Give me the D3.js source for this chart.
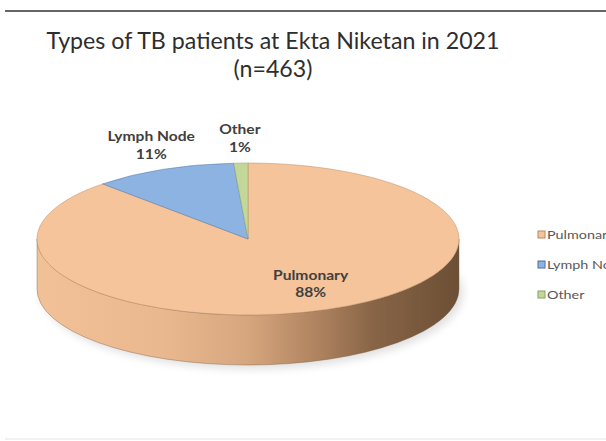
<!DOCTYPE html>
<html>
<head>
<meta charset="utf-8">
<script src="https://cdn.jsdelivr.net/npm/d3@7"></script>
<style>
  body { margin: 0; background: #fff; }
  svg { display: block; font-family: Lato, "Liberation Sans", sans-serif; }
</style>
</head>
<body>
<div id="container"></div>
<script>
const categories = ['Pulmonary', 'Lymph Node', 'Other'];
const counts = [407, 51, 5];
const titleLines = ['Types of TB patients at Ekta Niketan in 2021', '(n=463)'];

const width = 606;
const height = 441;

const svg = d3.select('#container')
              .append('svg')
              .attr('width', width)
              .attr('height', height);

// frame lines
svg.append('line')
   .attr('x1', 5).attr('x2', width).attr('y1', 11).attr('y2', 11)
   .attr('stroke', '#666').attr('stroke-width', 2.2);
svg.append('line')
   .attr('x1', 5).attr('x2', width).attr('y1', 439).attr('y2', 439)
   .attr('stroke', '#ececec').attr('stroke-width', 1.5);

// title
svg.selectAll('text.title')
   .data(titleLines)
   .enter()
   .append('text')
   .attr('class', 'title')
   .attr('x', 273)
   .attr('y', (d, i) => 49 + i * 28)
   .attr('text-anchor', 'middle')
   .attr('font-size', 23.2)
   .attr('fill', '#2e2e2e')
   .text(d => d);

const color = d3.scaleOrdinal()
                .domain(categories)
                .range(['#f5c49b', '#8db3e2', '#c4d79b']);
const edge = d3.scaleOrdinal()
               .domain(categories)
               .range(['#b78a62', '#4f6f99', '#8aa060']);

const cx = 248, cy = 239, rx = 211, ry = 76, depth = 50;
const total = d3.sum(counts);
const data = categories.map((c, i) => ({ name: c, value: counts[i] }));

const pie = d3.pie().sort(null).value(d => d.value);
const arcs = pie(data);

const px = a => cx + rx * Math.sin(a);
const py = a => cy - ry * Math.cos(a);

// side gradient
const defs = svg.append('defs');
const grad = defs.append('linearGradient')
                 .attr('id', 'side')
                 .attr('gradientUnits', 'userSpaceOnUse')
                 .attr('x1', cx - rx).attr('x2', cx + rx)
                 .attr('y1', 0).attr('y2', 0);
[[0, '#f2c198'], [0.3, '#e9b88f'], [0.5, '#d6a67e'], [0.66, '#b08460'], [0.8, '#876446'], [1, '#6c4f35']]
  .forEach(s => grad.append('stop').attr('offset', s[0]).attr('stop-color', s[1]));

const blur = defs.append('filter').attr('id', 'shadow')
                 .attr('x', '-10%').attr('y', '-10%').attr('width', '120%').attr('height', '140%');
blur.append('feGaussianBlur').attr('stdDeviation', 4);

// soft shadow under the pie
svg.append('ellipse')
   .attr('cx', cx + 4).attr('cy', cy + depth + 4)
   .attr('rx', rx).attr('ry', ry)
   .attr('fill', '#000').attr('opacity', 0.12)
   .attr('filter', 'url(#shadow)');

// front side of each slice
function sidePath(d) {
  const a0 = Math.max(d.startAngle, Math.PI / 2);
  const a1 = Math.min(d.endAngle, 3 * Math.PI / 2);
  if (a1 <= a0) return null;
  return `M${px(a0)},${py(a0)} A${rx},${ry} 0 0 1 ${px(a1)},${py(a1)}` +
         ` L${px(a1)},${py(a1) + depth} A${rx},${ry} 0 0 0 ${px(a0)},${py(a0) + depth} Z`;
}

svg.selectAll('path.side')
   .data(arcs.filter(d => sidePath(d)))
   .enter()
   .append('path')
   .attr('class', 'side')
   .attr('d', sidePath)
   .attr('fill', 'url(#side)')
   .attr('stroke', '#7a5a3e')
   .attr('stroke-opacity', 0.5)
   .attr('stroke-width', 0.8);

// top faces
function topPath(d) {
  const large = d.endAngle - d.startAngle > Math.PI ? 1 : 0;
  return `M${cx},${cy} L${px(d.startAngle)},${py(d.startAngle)}` +
         ` A${rx},${ry} 0 ${large} 1 ${px(d.endAngle)},${py(d.endAngle)} Z`;
}

svg.selectAll('path.top')
   .data(arcs)
   .enter()
   .append('path')
   .attr('class', 'top')
   .attr('d', topPath)
   .attr('fill', d => color(d.data.name))
   .attr('stroke', d => edge(d.data.name))
   .attr('stroke-opacity', 0.6)
   .attr('stroke-width', 0.8);

// data labels (the source picture is stretched sideways, hence scale)
const pct = d => Math.round(d.value / total * 100) + '%';
const labels = svg.selectAll('g.label')
                  .data(arcs)
                  .enter()
                  .append('g')
                  .attr('class', 'label')
                  .attr('transform', d => {
                      const a = (d.startAngle + d.endAngle) / 2;
                      const big = d.endAngle - d.startAngle > Math.PI;
                      const fx = big ? 0.8 : 1.14;
                      const fy = big ? 0.55 : 1.1;
                      const x = cx + rx * fx * Math.sin(a);
                      const y = cy - ry * fy * Math.cos(a);
                      return 'translate(' + x + ',' + (big ? y + 2 : y - 21) + ') scale(1.25,1)';
                  });

labels.selectAll('text')
      .data(d => [d.data.name, pct(d.data)])
      .enter()
      .append('text')
      .attr('x', 0)
      .attr('y', (d, i) => i * 17.5)
      .attr('text-anchor', 'middle')
      .attr('font-size', 12.5)
      .attr('font-weight', 'bold')
      .attr('fill', '#404040')
      .text(d => d);

// legend
const legend = svg.append('g').attr('transform', 'translate(538,231)');
legend.selectAll('rect')
      .data(categories)
      .enter()
      .append('rect')
      .attr('x', 0)
      .attr('y', (d, i) => i * 30)
      .attr('width', 7)
      .attr('height', 7)
      .attr('fill', d => color(d))
      .attr('stroke', d => edge(d))
      .attr('stroke-width', 1);
legend.selectAll('text')
      .data(categories)
      .enter()
      .append('text')
      .attr('transform', (d, i) => 'translate(9,' + (i * 30 + 7.5) + ') scale(1.25,1)')
      .attr('font-size', 11.5)
      .attr('fill', '#595959')
      .text(d => d);
</script>
</body>
</html>
